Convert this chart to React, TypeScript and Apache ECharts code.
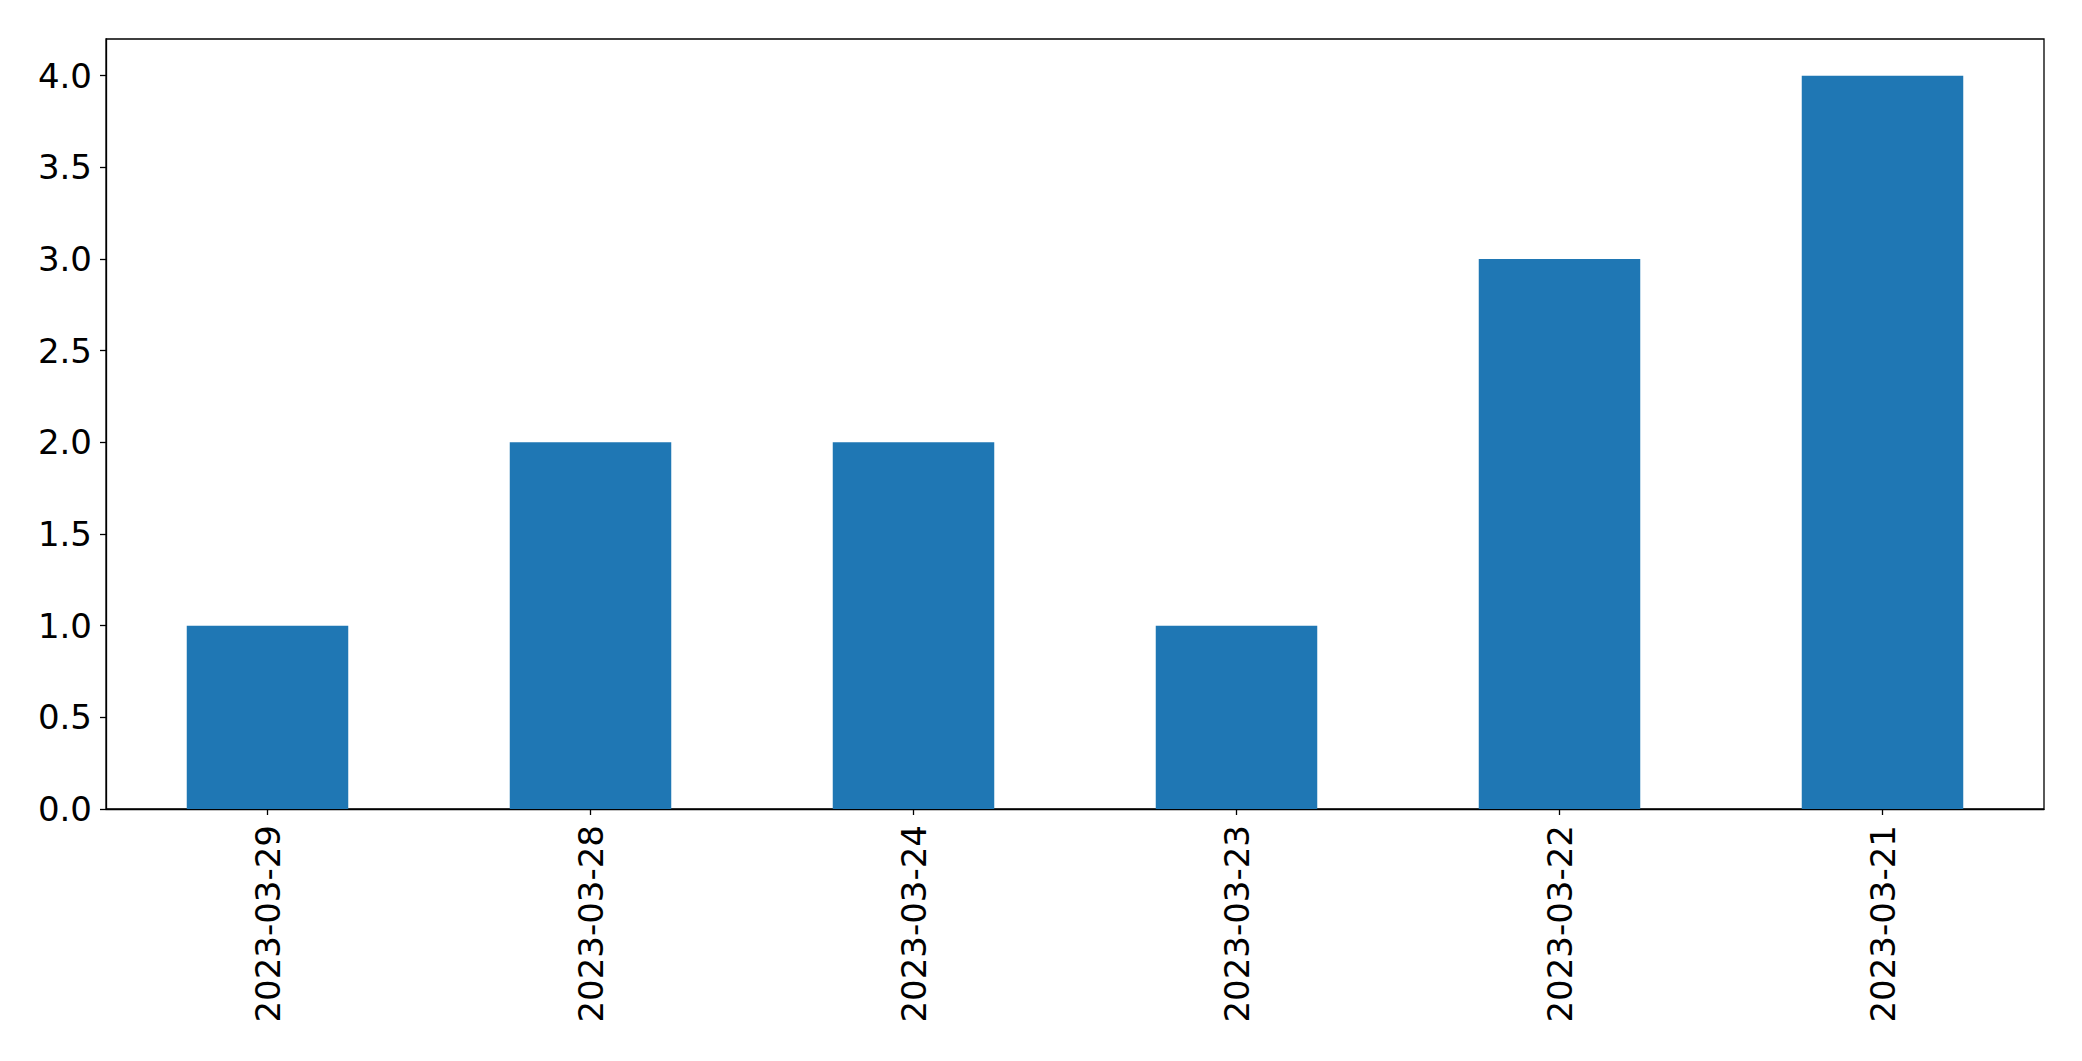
import React, { useEffect, useRef } from "react";
import * as echarts from "echarts";

const categories = ["2023-03-29", "2023-03-28", "2023-03-24", "2023-03-23", "2023-03-22", "2023-03-21"];
const values = [1, 2, 2, 1, 3, 4];
const yTicks = [0, 0.5, 1, 1.5, 2, 2.5, 3, 3.5, 4];

export default function App() {
  const ref = useRef<HTMLDivElement>(null);
  useEffect(() => {
    if (!ref.current) return;
    const chart = echarts.init(ref.current, null, { renderer: "svg" });
    const font = "DejaVu Sans";
    chart.setOption({
      animation: false,
      backgroundColor: "#ffffff",
      grid: {
        left: 106,
        right: 38,
        top: 39,
        bottom: 252,
        show: true,
        borderColor: "#000000",
        borderWidth: 1.3,
        containLabel: false,
      },
      xAxis: {
        type: "category",
        data: categories,
        boundaryGap: true,
        axisLine: { show: true, lineStyle: { color: "#000", width: 1.3 } },
        axisTick: { show: true, alignWithLabel: true, length: 6, lineStyle: { color: "#000", width: 1.3 } },
        axisLabel: {
          rotate: 90,
          margin: 16,
          fontSize: 34,
          fontFamily: font,
          color: "#000",
          interval: 0,
        },
        splitLine: { show: false },
      },
      yAxis: {
        type: "value",
        min: 0,
        max: 4.2,
        interval: 0.5,
        axisLine: { show: true, lineStyle: { color: "#000", width: 1.3 } },
        axisTick: { show: true, length: 6, customValues: yTicks, lineStyle: { color: "#000", width: 1.3 } },
        axisLabel: {
          customValues: yTicks,
          margin: 14,
          fontSize: 34,
          fontFamily: font,
          color: "#000",
          formatter: (v: number) => v.toFixed(1),
        },
        splitLine: { show: false },
      },
      series: [
        {
          type: "bar",
          data: values,
          barWidth: "50%",
          itemStyle: { color: "#1f77b4" },
        },
      ],
    });
    return () => chart.dispose();
  }, []);
  return (
    <div
      ref={ref}
      style={{ position: "fixed", left: 0, top: 0, width: 2082, height: 1061 }}
    />
  );
}
